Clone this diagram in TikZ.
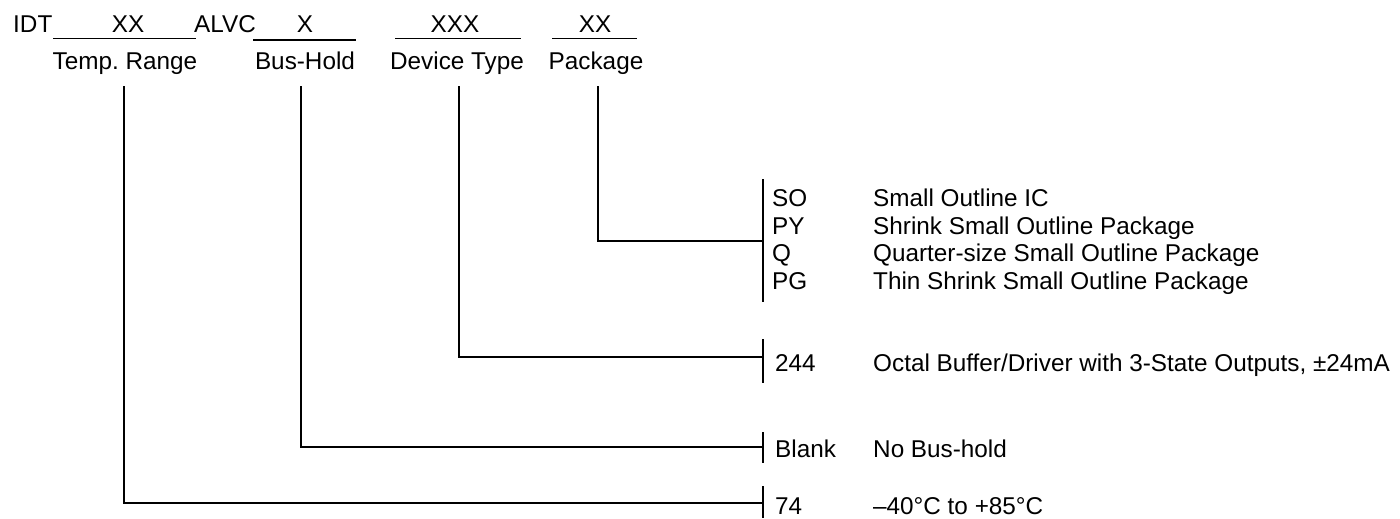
\documentclass[tikz,border=0pt]{standalone}
\usepackage{fontspec}
\setmainfont{Liberation Sans}
\frenchspacing
\begin{document}
\begin{tikzpicture}[x=1pt,y=-1pt,
  txt/.style={inner sep=0pt, font=\fontsize{24.3}{28}\selectfont},
  code/.style={txt, anchor=base west},
  ln/.style={line width=1.5pt},
  ul/.style={line width=1pt},
  ulb/.style={line width=2.4pt}]
\useasboundingbox (0,0) rectangle (1400,519);
% top row
\node[txt,anchor=base west] (idt) at (13,33) {IDT};
\node[txt,anchor=base] (xx1) at (128,33) {XX};
\node[txt,anchor=base west] (alvc) at (194,33) {ALVC};
\node[txt,anchor=base] (x1) at (305,33) {X};
\node[txt,anchor=base] (xxx) at (455,33) {XXX};
\node[txt,anchor=base] (xx2) at (595,33) {XX};
\draw[ul] (53,39) -- (196,39);
\draw[ulb] (253,40) -- (356,40);
\draw[ul] (395,39) -- (521,39);
\draw[ul] (552,39) -- (637,39);
% field names
\node[txt,anchor=base] (temp) at (125,70) {Temp. Range};
\node[txt,anchor=base] (bus) at (305,70) {Bus-Hold};
\node[txt,anchor=base] (dev) at (457,70) {Device Type};
\node[txt,anchor=base] (pkg) at (596,70) {Package};
% connector coordinates
\coordinate (t0) at (124,86);
\coordinate (b0) at (301,86);
\coordinate (d0) at (459,86);
\coordinate (p0) at (598,86);
\coordinate (tE) at (763,503);
\coordinate (bE) at (763,447);
\coordinate (dE) at (763,357);
\coordinate (pE) at (763,241);
\draw[ln] (t0) |- (tE);
\draw[ln] (b0) |- (bE);
\draw[ln] (d0) |- (dE);
\draw[ln] (p0) |- (pE);
% bars
\coordinate (pT) at (763,179); \coordinate (pB) at (763,302);
\coordinate (dT) at (763,339); \coordinate (dB) at (763,383);
\coordinate (bT) at (763,432); \coordinate (bB) at (763,463);
\coordinate (tT) at (763,486); \coordinate (tB) at (763,518);
\draw[ln] (pT) -- (pB);
\draw[ln] (dT) -- (dB);
\draw[ln] (bT) -- (bB);
\draw[ln] (tT) -- (tB);
% package options
\node[code] (so) at (772,206) {SO};
\node[code] (py) at (772,234) {PY};
\node[code] (q) at (772,261) {Q};
\node[code] (pg) at (772,289) {PG};
\node[code] (sod) at (873,206) {Small Outline IC};
\node[code] (pyd) at (873,234) {Shrink Small Outline Package};
\node[code] (qd) at (873,261) {Quarter-size Small Outline Package};
\node[code] (pgd) at (873,289) {Thin Shrink Small Outline Package};
% device
\node[code] (c244) at (775,371) {244};
\node[code] (d244) at (873,371) {Octal Buffer/Driver with 3-State Outputs, ±24mA};
% bus hold
\node[code] (blank) at (775,457) {Blank};
\node[code] (blankd) at (873,457) {No Bus-hold};
% temp
\node[code] (c74) at (775,514) {74};
\node[code] (d74) at (873,514) {–40°C to +85°C};
\end{tikzpicture}
\end{document}
